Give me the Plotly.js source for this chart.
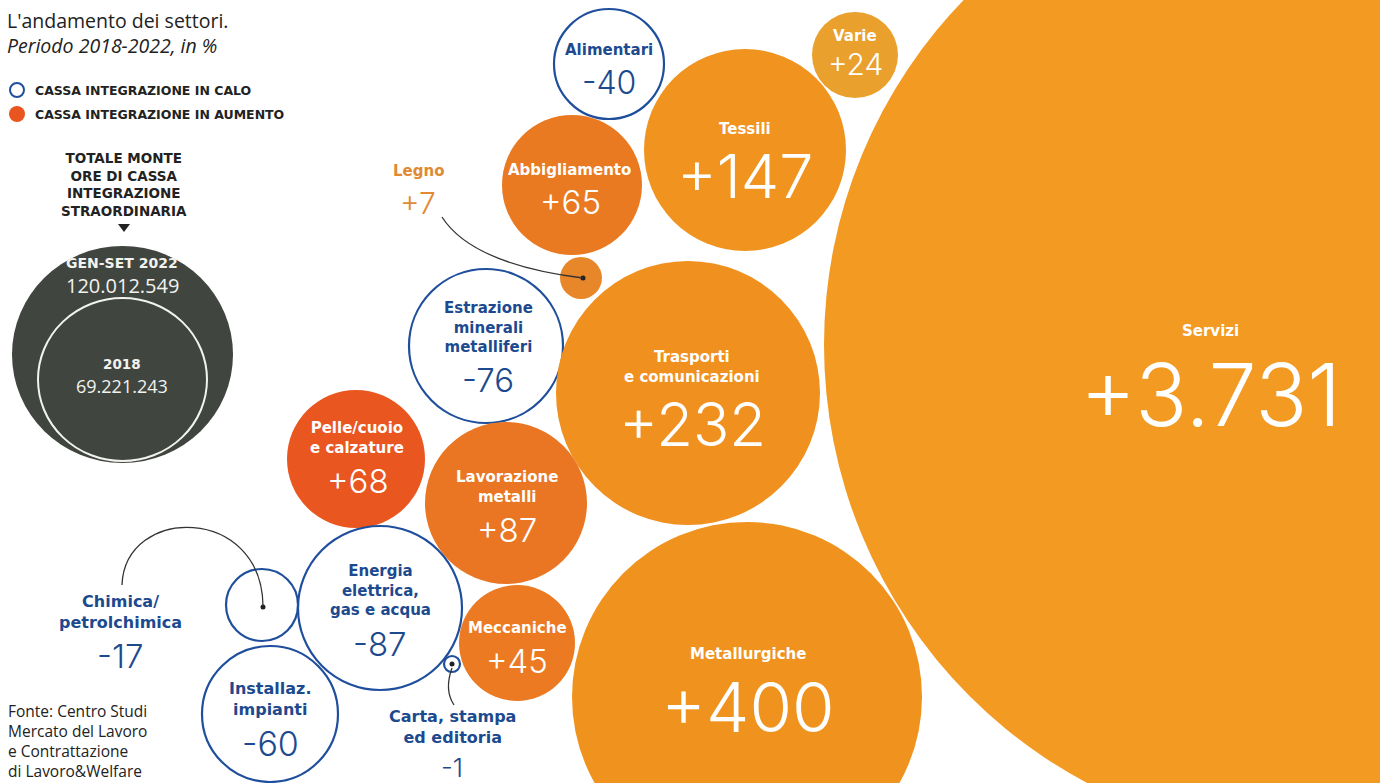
<!DOCTYPE html>
<html>
<head>
<meta charset="utf-8">
<script src="https://cdn.plot.ly/plotly-3.0.1.min.js"></script>
<style>html,body{margin:0;padding:0;background:#fff;}#chart{width:1380px;height:783px;}</style>
</head>
<body>
<div id="chart"></div>
<script>
// ---------- DATA ----------
const categories = ["Alimentari","Varie","Tessili","Abbigliamento","Legno",
  "Estrazione minerali metalliferi","Trasporti e comunicazioni","Pelle/cuoio e calzature",
  "Lavorazione metalli","Energia elettrica, gas e acqua","Chimica/petrolchimica",
  "Installaz. impianti","Carta, stampa ed editoria","Meccaniche","Metallurgiche","Servizi"];
const labelLines = ["Alimentari","Varie","Tessili","Abbigliamento","Legno",
  "Estrazione<br>minerali<br>metalliferi","Trasporti<br>e comunicazioni","Pelle/cuoio<br>e calzature",
  "Lavorazione<br>metalli","Energia<br>elettrica,<br>gas e acqua","Chimica/<br>petrolchimica",
  "Installaz.<br>impianti","Carta, stampa<br>ed editoria","Meccaniche","Metallurgiche","Servizi"];
const values = [-40, 24, 147, 65, 7, -76, 232, 68, 87, -87, -17, -60, -1, 45, 400, 3731];

const totalLabels = ["GEN-SET 2022", "2018"];
const totalValues = [120012549, 69221243];

const legendLabels = ["CASSA INTEGRAZIONE IN CALO", "CASSA INTEGRAZIONE IN AUMENTO"];

// ---------- LAYOUT (positions / sizes / styles, in page pixels) ----------
const cx  = [609, 855, 745, 572, 581, 486, 688, 356, 506, 380, 262, 270, 452, 517, 747, 1320];
const cy  = [ 64,  55, 150, 185, 278, 346, 393, 459, 503, 608, 605, 714, 664, 643, 697,  345];
const rad = [ 55,  43, 101,  70,  21,  77, 132,  69,  81,  82,  36,  68,   8,  58, 175,  496];
const fills = ["", "#EAA02C", "#F0941F", "#EA7A22", "#E8872A", "", "#F0901F", "#E9561F",
  "#EA7623", "", "", "", "", "#EB7A22", "#F0921E", "#F29A22"];
const nameX = [609, 855, 745, 569, 418, 488, 692, 357, 507, 380, 120, 270, 452, 517, 748, 1210];
const nameY = [ 50,  36, 129, 170, 171, 327, 367, 438, 487, 590, 612, 699, 727, 628, 654,  331];
const numX  = [609, 855, 745, 570, 418, 488, 692, 358, 507, 380, 120, 270, 452, 517, 748, 1210];
const numY  = [ 82,  64, 176, 202, 203, 380, 424, 481, 530, 644, 656, 743, 767, 661, 707,  395];
const numSize = [32, 30, 61, 33, 30, 33, 60, 33, 33, 33, 33, 34, 26, 33, 69, 86];

const BLUE = "#1F4F9C", BLUE_TXT = "#1D4A8E", RED = "#E9541F", LEGNO_TXT = "#E08A32";
const LABEL_FONT = "'DejaVu Sans', 'Open Sans', sans-serif";
const TEXT_FONT = "'Open Sans', 'Noto Sans', sans-serif";
const NUM_FONT = "Inter, Lato, sans-serif";

function fmt(v) {
  const s = String(Math.abs(v)).replace(/\B(?=(\d{3})+(?!\d))/g, ".");
  return (v > 0 ? "+" : "-") + s;
}
function fmtTot(v) { return String(v).replace(/\B(?=(\d{3})+(?!\d))/g, "."); }

// bubble trace
const bubbleTrace = {
  type: "scatter", mode: "markers", x: cx, y: cy,
  text: categories, hoverinfo: "text", cliponaxis: true,
  marker: {
    size: rad.map(r => 2 * r), sizemode: "diameter",
    color: values.map((v, i) => v < 0 ? "rgba(0,0,0,0)" : fills[i]),
    line: { color: values.map(v => v < 0 ? BLUE : "rgba(0,0,0,0)"), width: values.map(v => v < 0 ? 2.2 : 0) },
    opacity: 1
  }
};

// callout dots
const dotIdx = [4, 10, 12];
const dotTrace = {
  type: "scatter", mode: "markers", hoverinfo: "skip",
  x: dotIdx.map(i => cx[i] + (i === 4 ? 2 : (i === 10 ? 1 : 0))),
  y: dotIdx.map(i => cy[i] + (i === 10 ? 2 : 0)),
  marker: { size: 5, color: "#222" }
};

const annotations = [];
const shapes = [];

// labels
categories.forEach((c, i) => {
  const neg = values[i] < 0;
  let col = neg ? BLUE_TXT : "#FFFFFF";
  if (i === 4) col = LEGNO_TXT;
  const big = [10, 11, 12].includes(i);
  annotations.push({
    x: nameX[i], y: nameY[i], xref: "x", yref: "y", showarrow: false,
    text: "<b>" + labelLines[i] + "</b>", align: "center",
    font: { family: LABEL_FONT, size: big ? 16 : 15, color: col, weight: 700 },
    xanchor: "center", yanchor: "middle"
  });
  annotations.push({
    x: numX[i], y: numY[i], xref: "x", yref: "y", showarrow: false,
    text: fmt(values[i]),
    font: { family: NUM_FONT, size: numSize[i], color: col, weight: 260 },
    xanchor: "center", yanchor: "middle"
  });
});

// callout lines
shapes.push({ type: "path", xref: "x", yref: "y", path: "M 442 217 Q 472 264 583 278", line: { color: "#333", width: 1.3 } });
shapes.push({ type: "path", xref: "x", yref: "y", path: "M 122 585 C 125 505 262 505 263 606", line: { color: "#333", width: 1.3 } });
shapes.push({ type: "path", xref: "x", yref: "y", path: "M 452 668 Q 444 690 454 705", line: { color: "#333", width: 1.3 } });

// title
annotations.push({ x: 5, y: 20, xref: "x", yref: "y", xanchor: "left", yanchor: "middle", showarrow: false,
  text: "L'andamento dei settori.", font: { family: TEXT_FONT, size: 19.5, color: "#222" } });
annotations.push({ x: 5, y: 45, xref: "x", yref: "y", xanchor: "left", yanchor: "middle", showarrow: false,
  text: "<i>Periodo 2018-2022, in %</i>", font: { family: TEXT_FONT, size: 19.5, color: "#222" } });

// legend
shapes.push({ type: "circle", xref: "x", yref: "y", x0: 10, x1: 24, y0: 83, y1: 97, line: { color: BLUE, width: 2 }, fillcolor: "rgba(0,0,0,0)" });
shapes.push({ type: "circle", xref: "x", yref: "y", x0: 9, x1: 25, y0: 106, y1: 122, line: { width: 0 }, fillcolor: RED });
legendLabels.forEach((t, k) => {
  annotations.push({ x: 33, y: 90 + 24 * k, xref: "x", yref: "y", xanchor: "left", yanchor: "middle", showarrow: false,
    text: "<b>" + t + "</b>", font: { family: LABEL_FONT, size: 12.5, color: "#222", weight: 700 } });
});

// totals block
annotations.push({ x: 124, y: 184, xref: "x", yref: "y", xanchor: "center", yanchor: "middle", showarrow: false,
  text: "<b>TOTALE MONTE<br>ORE DI CASSA<br>INTEGRAZIONE<br>STRAORDINARIA</b>", align: "center",
  font: { family: LABEL_FONT, size: 13.5, color: "#222", weight: 700 } });
shapes.push({ type: "path", xref: "x", yref: "y", path: "M 118 224 L 130 224 L 124 232 Z", fillcolor: "#222", line: { width: 0 } });
shapes.push({ type: "circle", xref: "x", yref: "y", x0: 12, x1: 233, y0: 246, y1: 463, fillcolor: "#40453F", line: { width: 0 } });
shapes.push({ type: "circle", xref: "x", yref: "y", x0: 38, x1: 207, y0: 298, y1: 461, fillcolor: "rgba(0,0,0,0)", line: { color: "#F2F2EE", width: 2 } });
const totY = [[263, 285], [364, 386]];
totalLabels.forEach((t, k) => {
  annotations.push({ x: 122, y: totY[k][0], xref: "x", yref: "y", xanchor: "center", yanchor: "middle", showarrow: false,
    text: "<b>" + t + "</b>", font: { family: LABEL_FONT, size: k === 0 ? 14 : 13.5, color: "#F2F2EE", weight: 700 } });
  annotations.push({ x: 122, y: totY[k][1], xref: "x", yref: "y", xanchor: "center", yanchor: "middle", showarrow: false,
    text: fmtTot(totalValues[k]), font: { family: TEXT_FONT, size: k === 0 ? 20 : 18, color: "#F2F2EE" } });
});

// source
annotations.push({ x: 6, y: 741, xref: "x", yref: "y", xanchor: "left", yanchor: "middle", showarrow: false, align: "left",
  text: "Fonte: Centro Studi<br>Mercato del Lavoro<br>e Contrattazione<br>di Lavoro&Welfare",
  font: { family: TEXT_FONT, size: 15.5, color: "#222" } });

const layout = {
  width: 1380, height: 783,
  margin: { l: 0, r: 0, t: 0, b: 0, pad: 0 },
  paper_bgcolor: "#FFFFFF", plot_bgcolor: "#FFFFFF",
  xaxis: { range: [0, 1380], visible: false, fixedrange: true },
  yaxis: { range: [783, 0], visible: false, fixedrange: true },
  showlegend: false, shapes: shapes, annotations: annotations,
  hovermode: "closest"
};

Plotly.newPlot("chart", [bubbleTrace, dotTrace], layout, { displayModeBar: false, staticPlot: true });
</script>
</body>
</html>
